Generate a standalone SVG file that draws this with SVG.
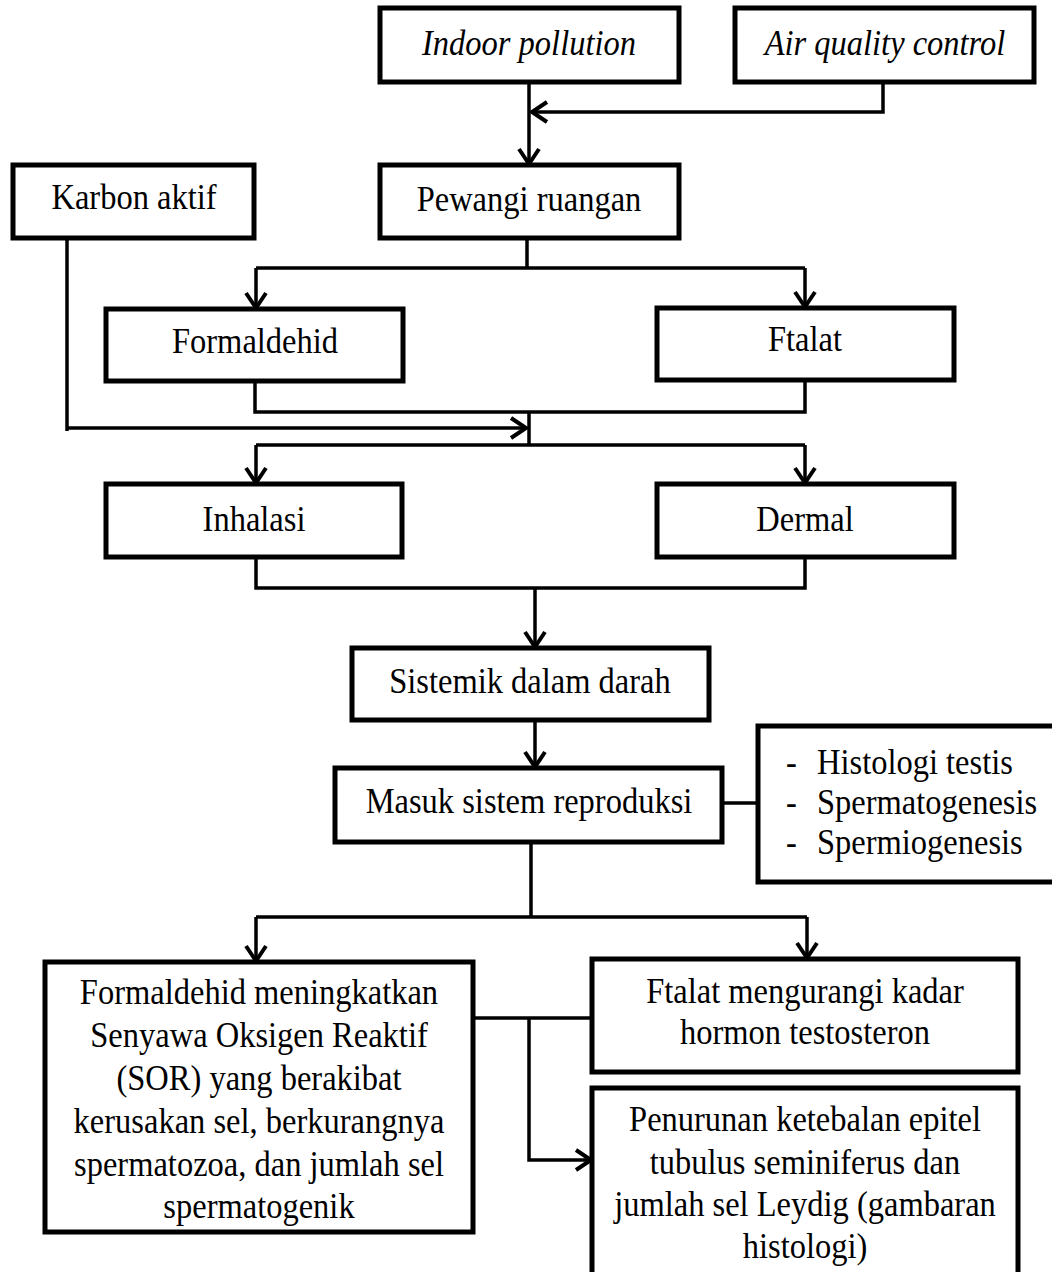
<svg xmlns="http://www.w3.org/2000/svg" width="1052" height="1272" viewBox="0 0 1052 1272">
<style>
.box{fill:#fff;stroke:#000;stroke-width:5;stroke-linejoin:miter}
.t{font-family:"Liberation Serif","Times New Roman",serif;font-size:32.5px;fill:#000;text-anchor:middle}
.l{text-anchor:start}
.i{font-style:italic}
.c{fill:none;stroke:#000;stroke-width:3.5;stroke-linejoin:miter}
.a{marker-end:url(#arr)}
</style>
<defs>
<marker id="arr" markerUnits="userSpaceOnUse" viewBox="-20 -14 24 28" refX="0" refY="0" markerWidth="24" markerHeight="28" orient="auto">
<path d="M-15,-10 L0,0 L-15,10" fill="none" stroke="#000" stroke-width="4" stroke-linejoin="miter"/>
</marker>
</defs>
<rect width="1052" height="1272" fill="#fff"/>
<g id="connectors">
<path class="c a" d="M529,82 V164"/>
<path class="c a" d="M883,82 V112 H532"/>
<path class="c" d="M527,238 V268 M256,268 H805"/>
<path class="c a" d="M256,268 V308"/>
<path class="c a" d="M805,268 V307"/>
<path class="c" d="M255,381 V412 H805 V380"/>
<path class="c" d="M67,238 V431"/>
<path class="c a" d="M67,428 H526"/>
<path class="c" d="M529,413 V445 M256,445 H805"/>
<path class="c a" d="M256,445 V483"/>
<path class="c a" d="M805,445 V483"/>
<path class="c" d="M256,557 V588 H805 V557"/>
<path class="c a" d="M535,588 V647"/>
<path class="c a" d="M535,721 V767"/>
<path class="c" d="M722,803 H758"/>
<path class="c" d="M531,842 V917 M256,917 H807"/>
<path class="c a" d="M256,917 V961"/>
<path class="c a" d="M807,917 V958"/>
<path class="c" d="M473,1018 H592"/>
<path class="c a" d="M529,1018 V1160 H591"/>
</g>
<g id="indoor">
<rect class="box" x="380" y="8" width="299" height="74"/>
<text class="t i" transform="translate(529,55) scale(1,1.1)">Indoor pollution</text>
</g>
<g id="airquality">
<rect class="box" x="735" y="8" width="299" height="74"/>
<text class="t i" transform="translate(885,55) scale(1,1.1)">Air quality control</text>
</g>
<g id="pewangi">
<rect class="box" x="380" y="165" width="299" height="73"/>
<text class="t" transform="translate(529,211) scale(1,1.1)">Pewangi ruangan</text>
</g>
<g id="karbon">
<rect class="box" x="13" y="165" width="241" height="73"/>
<text class="t" transform="translate(134,209) scale(1,1.1)">Karbon aktif</text>
</g>
<g id="formaldehid">
<rect class="box" x="106" y="309" width="297" height="72"/>
<text class="t" transform="translate(255,353) scale(1,1.1)">Formaldehid</text>
</g>
<g id="ftalat">
<rect class="box" x="657" y="308" width="297" height="72"/>
<text class="t" transform="translate(805,351) scale(1,1.1)">Ftalat</text>
</g>
<g id="inhalasi">
<rect class="box" x="106" y="484" width="296" height="73"/>
<text class="t" transform="translate(254,531) scale(1,1.1)">Inhalasi</text>
</g>
<g id="dermal">
<rect class="box" x="657" y="484" width="297" height="73"/>
<text class="t" transform="translate(805,531) scale(1,1.1)">Dermal</text>
</g>
<g id="sistemik">
<rect class="box" x="352" y="648" width="357" height="72"/>
<text class="t" transform="translate(530,693) scale(1,1.1)">Sistemik dalam darah</text>
</g>
<g id="masuk">
<rect class="box" x="335" y="768" width="387" height="74"/>
<text class="t" transform="translate(529,813) scale(1,1.1)">Masuk sistem reproduksi</text>
</g>
<g id="list">
<rect class="box" x="758" y="726" width="310" height="156"/>
<text class="t l" transform="translate(786,774) scale(1,1.1)">-</text>
<text class="t l" transform="translate(817,774) scale(1,1.1)">Histologi testis</text>
<text class="t l" transform="translate(786,814) scale(1,1.1)">-</text>
<text class="t l" transform="translate(817,814) scale(1,1.1)">Spermatogenesis</text>
<text class="t l" transform="translate(786,854) scale(1,1.1)">-</text>
<text class="t l" transform="translate(817,854) scale(1,1.1)">Spermiogenesis</text>
</g>
<g id="formaldehid-effect">
<rect class="box" x="45" y="962" width="428" height="270"/>
<text class="t" transform="translate(259,1004) scale(1,1.1)">Formaldehid meningkatkan</text>
<text class="t" transform="translate(259,1047) scale(1,1.1)">Senyawa Oksigen Reaktif</text>
<text class="t" transform="translate(259,1090) scale(1,1.1)">(SOR) yang berakibat</text>
<text class="t" transform="translate(259,1133) scale(1,1.1)">kerusakan sel, berkurangnya</text>
<text class="t" transform="translate(259,1176) scale(1,1.1)">spermatozoa, dan jumlah sel</text>
<text class="t" transform="translate(259,1218) scale(1,1.1)">spermatogenik</text>
</g>
<g id="ftalat-effect">
<rect class="box" x="592" y="959" width="426" height="113"/>
<text class="t" transform="translate(805,1003) scale(1,1.1)">Ftalat mengurangi kadar</text>
<text class="t" transform="translate(805,1044) scale(1,1.1)">hormon testosteron</text>
</g>
<g id="penurunan">
<rect class="box" x="592" y="1088" width="426" height="200"/>
<text class="t" transform="translate(805,1131) scale(1,1.1)">Penurunan ketebalan epitel</text>
<text class="t" transform="translate(805,1174) scale(1,1.1)">tubulus seminiferus dan</text>
<text class="t" transform="translate(805,1216) scale(1,1.1)">jumlah sel Leydig (gambaran</text>
<text class="t" transform="translate(805,1258) scale(1,1.1)">histologi)</text>
</g>
</svg>
